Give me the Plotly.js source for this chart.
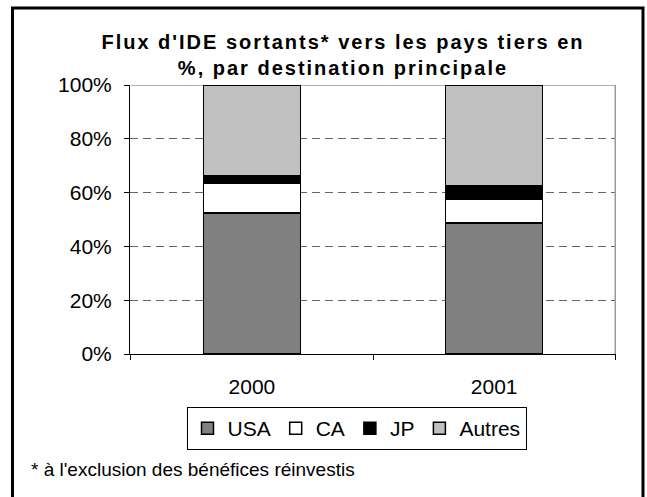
<!DOCTYPE html>
<html>
<head>
<meta charset="utf-8">
<script src="https://cdn.plot.ly/plotly-3.0.1.min.js"></script>
<style>
html,body{margin:0;padding:0;background:#fff;}
#chart{width:647px;height:497px;}
.gtitle{letter-spacing:2px;}
</style>
</head>
<body>
<div id="chart"></div>
<script>
// ---- data ----
const years = ['2000', '2001'];
const usa = [52.5, 48.7];
const ca = [11.0, 8.9];
const jp = [2.7, 4.9];
const autres = [33.8, 37.5];
const seriesNames = ['USA', 'CA', 'JP', 'Autres'];
const seriesColors = ['#808080', '#ffffff', '#000000', '#c0c0c0'];
const yTicks = [0, 20, 40, 60, 80, 100];
const yTickLabels = ['0%', '20%', '40%', '60%', '80%', '100%'];
const titleText = "Flux d'IDE sortants* vers les pays tiers en<br>%, par destination principale";
const footnoteText = "* à l'exclusion des bénéfices réinvestis";

// ---- geometry helpers (pixels -> paper) ----
const W = 647, H = 497;
const M = {l: 130, r: 31, t: 85, b: 143};
const PW = W - M.l - M.r, PH = H - M.t - M.b;
const px = x => (x - M.l) / PW;
const py = y => (H - M.b - y) / PH;

const FONT = 'Arial, "Liberation Sans", Helvetica, sans-serif';
const values = [usa, ca, jp, autres];

const traces = values.map((v, i) => ({
  type: 'bar',
  name: seriesNames[i],
  x: years,
  y: v,
  width: 0.4,
  marker: {color: seriesColors[i], line: {color: '#000', width: 1.5}},
  hoverinfo: 'x+y+name'
}));

const layout = {
  width: W, height: H,
  margin: M,
  paper_bgcolor: '#fff',
  plot_bgcolor: '#fff',
  barmode: 'stack',
  font: {family: FONT, color: '#000', size: 21},
  title: {
    text: titleText,
    font: {family: FONT, size: 20, weight: 'bold', color: '#000'},
    xref: 'container', yref: 'container',
    x: 343 / W, xanchor: 'center',
    y: 1 - 49 / H, yanchor: 'top'
  },
  xaxis: {
    type: 'category',
    showline: true, linecolor: '#000', linewidth: 1,
    ticks: 'outside', tickson: 'boundaries', ticklen: 5, tickcolor: '#000', tickwidth: 1,
    showgrid: false,
    tickfont: {family: FONT, size: 21, color: '#000'},
    ticklabelstandoff: 14,
    fixedrange: true
  },
  yaxis: {
    range: [0, 100],
    tickmode: 'array',
    tickvals: yTicks,
    ticktext: yTickLabels,
    showline: true, linecolor: '#000', linewidth: 1,
    ticks: 'outside', ticklen: 5, tickcolor: '#000', tickwidth: 1,
    showgrid: true, gridcolor: '#666', gridwidth: 1, griddash: '8px,5px',
    zeroline: false,
    tickfont: {family: FONT, size: 21, color: '#000'},
    ticklabelstandoff: 8,
    fixedrange: true
  },
  legend: {
    orientation: 'h',
    x: px(356.5), xanchor: 'center',
    y: py(407), yanchor: 'top',
    bordercolor: '#000', borderwidth: 1, bgcolor: '#fff',
    font: {family: FONT, size: 21, color: '#000'},
    traceorder: 'normal'
  },
  shapes: [
    {type: 'line', xref: 'x', yref: 'y', x0: -0.5, x1: 1.5, y0: 100, y1: 100,
     line: {color: '#999', width: 1.5}, layer: 'between'},
    {type: 'line', xref: 'x', yref: 'y', x0: 1.5, x1: 1.5, y0: 0, y1: 100,
     line: {color: '#999', width: 1.5}, layer: 'between'},
    {type: 'rect', xref: 'paper', yref: 'paper',
     x0: px(12.5), x1: px(643), y0: py(515), y1: py(8),
     line: {color: '#000', width: 3}, fillcolor: 'rgba(0,0,0,0)', layer: 'above'}
  ],
  annotations: [
    {text: footnoteText, xref: 'paper', yref: 'paper',
     x: px(29), xanchor: 'left', y: py(469), yanchor: 'middle',
     showarrow: false, font: {family: FONT, size: 19, color: '#000'}}
  ],
  showlegend: true
};

Plotly.newPlot('chart', traces, layout, {displayModeBar: false, staticPlot: true});
</script>
</body>
</html>
